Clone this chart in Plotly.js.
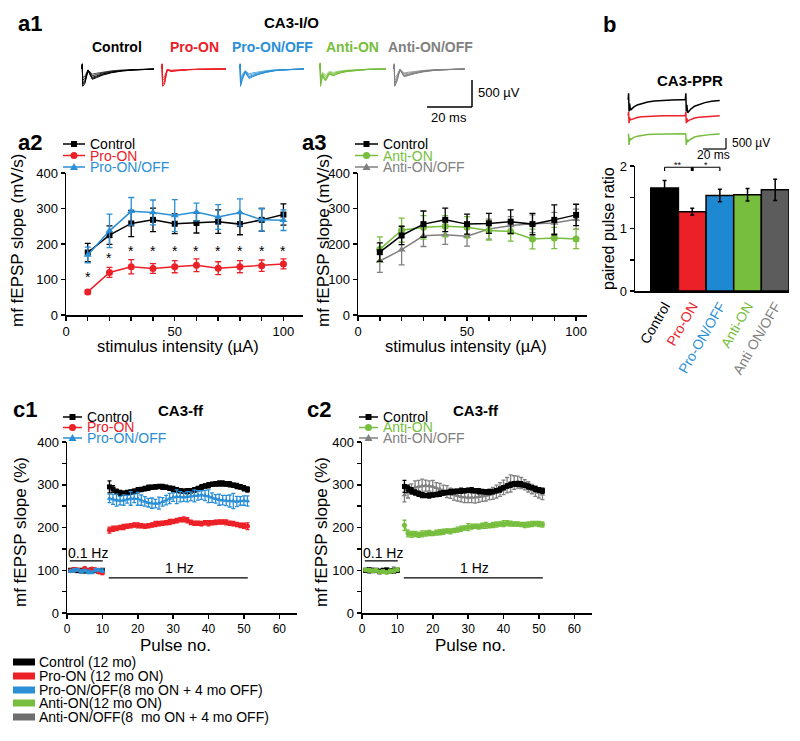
<!DOCTYPE html>
<html><head><meta charset="utf-8">
<script src="https://cdn.plot.ly/plotly-3.0.1.min.js"></script>
<style>body{margin:0;background:#fff}#chart{width:800px;height:741px}</style>
</head><body><div id="chart"></div>
<script>
// ---------- DATA ----------
const groupNames = ['Control','Pro-ON','Pro-ON/OFF','Anti-ON','Anti-ON/OFF'];
const groupColors = ['#000000','#EC2027','#2A8FD6','#77BE3E','#808080'];
const barColors = ['#000000','#EC2027','#1F88D2','#77BE3E','#5C5C5C'];

// a2 / a3 input-output
const intensity = [10,20,30,40,50,60,70,80,90,100];
const ioTickVals = [0,10,20,30,40,50,60,70,80,90,100];
const ioTickText = ['0','','','','','50','','','','','100'];
const ioControlA2 = [176,225,258,268,257,259,263,256,268,283];
const ioControlA2Err = [26,26,37,33,28,28,33,30,32,30];
const ioProOn = [65,120,136,131,136,140,132,136,139,144];
const ioProOnErr = [6,14,20,14,17,18,18,17,16,14];
const ioProOnOff = [169,237,292,289,280,290,276,289,268,267];
const ioProOnOffErr = [22,47,39,35,45,25,35,38,32,29];
const sigX = [10,20,30,40,50,60,70,80,90,100];
const sigY = [116,169,189,189,189,189,189,189,189,189];
const ioControlA3 = [177,224,256,268,256,258,263,256,268,282];
const ioControlA3Err = [26,26,37,33,28,28,33,30,42,30];
const ioAntiOn = [185,239,247,250,247,238,235,214,217,214];
const ioAntiOnErr = [35,34,33,30,30,27,27,28,30,27];
const ioAntiOnOff = [152,184,223,226,222,242,252,257,259,270];
const ioAntiOnOffErr = [32,43,30,27,28,28,25,25,30,28];

// b paired pulse ratio
const pprLabels = ['Control','Pro-ON','Pro-ON/OFF','Anti-ON','Anti ON/OFF'];
const pprMean = [1.65,1.27,1.53,1.54,1.62];
const pprErr = [0.12,0.055,0.1,0.1,0.17];

// c1 / c2 frequency facilitation
const basePulse = [1,2,3,4,5,6,7,8,9,10];
const hzPulse = [12,13,14,15,16,17,18,19,20,21,22,23,24,25,26,27,28,29,30,31,32,33,34,35,36,37,38,39,40,41,42,43,44,45,46,47,48,49,50,51];
const yTickVals = [0,50,100,150,200,250,300,350,400];
const yTickText = ['0','','100','','200','','300','','400'];
const pulseTicks = [0,10,20,30,40,50,60];

const c1ControlBase = [100,101,99,100,98,100,101,99,98,100];
const c1ProOnBase = [99,102,101,98,104,99,103,101,96,94];
const c1ProOnOffBase = [98,100,101,97,99,96,95,100,101,99];
const baseErr = [3,4,3,4,3,4,3,4,3,4];
const c1Control = [295,290,284,281,280,281,283,285,287,289,291,293,294,295,296,295,294,292,290,288,286,285,285,286,288,291,294,297,299,301,302,303,303,302,301,299,297,295,292,289];
const c1ControlErr = [14,8,6,6,5,6,5,5,6,5,5,6,5,5,5,6,5,5,6,5,5,5,6,5,5,5,6,5,6,5,5,6,6,5,6,5,6,5,6,6];
const c1ProOn = [194,197,198,200,201,203,204,206,205,204,203,204,206,208,209,210,211,213,214,216,218,219,217,212,210,210,209,211,210,211,212,213,213,212,210,209,207,205,204,203];
const c1ProOnErr = [7,6,5,5,6,5,5,5,6,5,5,5,5,6,5,5,5,6,5,5,5,6,6,5,5,5,5,5,6,5,5,5,5,6,5,5,5,5,6,8];
const c1ProOnOff = [268,266,264,263,264,266,268,268,267,264,261,258,257,256,257,260,264,268,271,272,272,271,272,273,274,275,276,275,273,270,267,265,264,263,262,262,261,262,263,262];
const c1ProOnOffErr = [10,12,14,10,12,9,16,10,15,12,11,10,12,10,14,10,11,12,10,16,12,10,12,10,14,11,10,12,15,11,10,13,11,12,14,18,12,10,11,12];

const c2ControlBase = [100,101,99,100,98,100,101,99,98,100];
const c2AntiOnBase = [101,100,99,100,96,97,95,98,99,102];
const c2AntiOnOffBase = [98,97,102,99,94,100,99,97,104,99];
const c2Control = [296,291,286,282,279,276,275,275,276,277,279,281,282,283,284,285,286,286,287,287,286,285,284,283,283,284,286,289,293,297,300,302,302,301,299,296,293,290,288,286];
const c2ControlErr = [14,8,7,6,6,6,5,6,5,5,6,5,5,6,5,5,6,5,5,6,5,6,5,5,6,5,5,6,5,5,6,5,6,6,5,6,5,6,5,6];
const c2AntiOn = [205,186,184,185,183,185,186,187,186,188,189,190,192,191,193,195,197,199,201,202,203,202,204,205,204,206,207,208,209,210,209,208,208,207,206,207,208,209,208,207];
const c2AntiOnErr = [12,8,7,6,6,7,6,6,5,6,6,6,5,6,5,6,6,5,8,6,5,6,6,7,5,6,6,5,7,6,6,5,5,5,6,6,6,5,6,6];
const c2AntiOnOff = [276,283,290,294,296,297,298,297,296,293,290,287,284,280,277,274,272,271,270,270,271,272,273,275,277,280,284,289,294,299,303,305,306,304,300,295,290,285,281,278];
const c2AntiOnOffErr = [16,14,12,15,14,16,13,12,14,12,13,12,14,12,13,12,12,13,12,12,14,13,12,13,12,14,15,16,17,18,20,16,14,13,12,12,11,12,12,13];

// example traces (a1, b)
const ioTime = [0,0.3,0.5,1.5,3,5,7,10,14,19,25,34];
const ioWaves = [
  [0,0.3,-1.0,-0.85,-0.1,-0.6,-0.5,-0.35,-0.22,-0.12,-0.06,-0.01],
  [0,0.3,-1.0,-0.9,-0.05,-0.15,-0.12,-0.08,-0.05,-0.03,-0.01,0],
  [0,0.3,-1.0,-0.6,-0.2,-0.55,-0.45,-0.32,-0.2,-0.1,-0.05,0],
  [0,0.35,-1.0,-0.4,-0.7,-0.3,-0.4,-0.25,-0.15,-0.08,-0.03,0],
  [0,0.3,-1.0,-0.75,-0.05,-0.45,-0.38,-0.27,-0.17,-0.09,-0.04,0]
];
const ioLevels = [0.5,0.65,0.8,0.9,1.0];
const pprTime = [0,0.4,0.8,1.3,2,3,5,8,12,17,23,30,38,46,50,50.4,50.8,51.3,52,53,55,58,62,67,73,80];
const pprWaveControl = [0,0.5,-0.9,-0.3,-0.8,-0.7,-0.55,-0.4,-0.28,-0.18,-0.1,-0.05,-0.02,0,0,0.5,-0.9,-0.4,-1.0,-0.9,-0.7,-0.5,-0.35,-0.22,-0.12,-0.06];
const pprWaveProOn = [0,0.4,-0.8,-0.2,-0.45,-0.4,-0.3,-0.2,-0.13,-0.08,-0.05,-0.02,0,0,0,0.4,-0.8,-0.3,-0.6,-0.5,-0.38,-0.25,-0.16,-0.1,-0.05,-0.02];
const pprWaveAntiOn = [0,-0.1,-1.0,-0.4,-0.55,-0.45,-0.33,-0.22,-0.14,-0.08,-0.04,-0.02,0,0,0,-0.1,-1.0,-0.5,-0.75,-0.6,-0.45,-0.3,-0.2,-0.12,-0.06,-0.03];

const legendBottom = ['Control (12 mo)','Pro-ON (12 mo ON)','Pro-ON/OFF(8 mo ON + 4 mo OFF)','Anti-ON(12 mo ON)','Anti-ON/OFF(8&nbsp; mo ON + 4 mo OFF)'];
const legendBottomColors = ['#000000','#EC2027','#2A8FD6','#77BE3E','#6E6E6E'];

// ---------- LAYOUT HELPERS ----------
const W = 800, H = 741;
const PX = x => x / W, PY = y => 1 - y / H;
const FONT = 'Liberation Sans, Arial, sans-serif';
const traces = [], shapes = [], annotations = [];
const layout = {
  width: W, height: H, margin: {l:0, r:0, t:0, b:0},
  paper_bgcolor: '#fff', plot_bgcolor: 'rgba(0,0,0,0)',
  showlegend: false, font: {family: FONT, color: '#000'}, bargap: 0
};
const axBase = {showline:true, linecolor:'#000', linewidth:1.5, ticks:'outside', ticklen:4, tickwidth:1.5,
  tickcolor:'#000', showgrid:false, zeroline:false, tickfont:{size:13, color:'#000', family:FONT}, fixedrange:true, tickmode:'array'};
function setAxes(k, xd, yd, xo, yo) {
  const xs = k === 1 ? 'xaxis' : 'xaxis' + k, ys = k === 1 ? 'yaxis' : 'yaxis' + k;
  const yid = k === 1 ? 'y' : 'y' + k, xid = k === 1 ? 'x' : 'x' + k;
  layout[xs] = Object.assign({}, axBase, {domain:[PX(xd[0]), PX(xd[1])], anchor: yid}, xo);
  layout[ys] = Object.assign({}, axBase, {domain:[PY(yd[1]), PY(yd[0])], anchor: xid}, yo);
}
function ann(text, x, y, o) {
  annotations.push(Object.assign({text, x: PX(x), y: PY(y), xref:'paper', yref:'paper', showarrow:false,
    xanchor:'center', yanchor:'middle', font:{size:14, color:'#000', family:FONT}}, o || {}));
}
function pline(x0, y0, x1, y1, color, w) {
  shapes.push({type:'line', xref:'paper', yref:'paper', x0:PX(x0), y0:PY(y0), x1:PX(x1), y1:PY(y1), line:{color: color || '#000', width: w || 1.5}});
}
function glyph(x0, x1, y, color, sym) {
  pline(x0, y, x1, y, color, 1.5);
  const cx = (x0 + x1) / 2, r = 3;
  if (sym === 'square') shapes.push({type:'rect', xref:'paper', yref:'paper', x0:PX(cx-r), x1:PX(cx+r), y0:PY(y+r), y1:PY(y-r), fillcolor:color, line:{width:0}});
  else if (sym === 'circle') shapes.push({type:'circle', xref:'paper', yref:'paper', x0:PX(cx-3.5), x1:PX(cx+3.5), y0:PY(y+3.5), y1:PY(y-3.5), fillcolor:color, line:{width:0}});
  else shapes.push({type:'path', xref:'paper', yref:'paper', path:`M ${PX(cx-4)} ${PY(y+3)} L ${PX(cx+4)} ${PY(y+3)} L ${PX(cx)} ${PY(y-4)} Z`, fillcolor:color, line:{width:0}});
}
function lineTrace(x, y, err, color, sym, k, msize, ew) {
  const ax = k === 1 ? '' : String(k);
  traces.push({x, y, type:'scatter', mode:'lines+markers', xaxis:'x'+ax, yaxis:'y'+ax,
    line:{color, width:1.5}, marker:{color, symbol:sym, size:msize},
    error_y:{type:'data', array:err, visible:true, color, thickness:1.3, width:ew}, hoverinfo:'skip'});
}

// ---------- a2 ----------
const ioX = {range:[0,109], tickvals:ioTickVals, ticktext:ioTickText};
const ioY = {range:[0,400], tickvals:[0,100,200,300,400], ticktext:['0','100','200','300','400']};
setAxes(1, [66,303], [173,315], ioX, ioY);
lineTrace(intensity, ioControlA2, ioControlA2Err, groupColors[0], 'square', 1, 6, 3);
lineTrace(intensity, ioProOn, ioProOnErr, groupColors[1], 'circle', 1, 7, 3);
lineTrace(intensity, ioProOnOff, ioProOnOffErr, groupColors[2], 'triangle-up', 1, 7, 3);
sigX.forEach((x, i) => annotations.push({text:'*', x, y:sigY[i], xref:'x', yref:'y', showarrow:false, yanchor:'middle', yshift:-3, font:{size:14, color:'#000', family:FONT}}));

// ---------- a3 ----------
setAxes(2, [358,587], [173,315], Object.assign({}, ioX, {range:[0,105]}), ioY);
lineTrace(intensity, ioAntiOnOff, ioAntiOnOffErr, groupColors[4], 'triangle-up', 2, 7, 3);
lineTrace(intensity, ioAntiOn, ioAntiOnErr, groupColors[3], 'circle', 2, 7, 3);
lineTrace(intensity, ioControlA3, ioControlA3Err, groupColors[0], 'square', 2, 6, 3);

// ---------- b ----------
setAxes(3, [635,789], [166,291],
  {range:[-1.07,4.5], ticks:'', tickvals:[0,1,2,3,4], tickangle:-60,
   ticktext: pprLabels.map((t,i) => `<span style="color:${groupColors[i]}">${t}</span>`),
   tickfont:{size:14, family:FONT}},
  {range:[0,2], tickvals:[0,0.5,1,1.5,2], ticktext:['0','','1','','2']});
traces.push({type:'bar', x:[0,1,2,3,4], y:pprMean, xaxis:'x3', yaxis:'y3', width:1,
  marker:{color:barColors, line:{color:'#000', width:1.5}},
  error_y:{type:'data', array:pprErr, visible:true, color:'#000', thickness:1.5, width:2}, hoverinfo:'skip'});
[[0,1.98,2,1.98],[0,1.98,0,1.92],[2,1.98,2,1.92]].forEach(s => shapes.push({type:'line', xref:'x3', yref:'y3', x0:s[0], y0:s[1], x1:s[2], y1:s[3], line:{color:'#000', width:1.2}}));
shapes.push({type:'line', xref:'x3', yref:'y3', x0:1, y0:1.98, x1:1, y1:1.92, line:{color:'#000', width:3}});
annotations.push({text:'**', x:0.5, y:1.98, xref:'x3', yref:'y3', showarrow:false, yanchor:'middle', yshift:2, font:{size:9, color:'#000', family:FONT}});
annotations.push({text:'*', x:1.5, y:1.98, xref:'x3', yref:'y3', showarrow:false, yanchor:'middle', yshift:2, font:{size:9, color:'#000', family:FONT}});

// ---------- c1 ----------
const cX = {range:[0,65], tickvals:pulseTicks, ticktext:pulseTicks.map(String), tickfont:{size:12, family:FONT}};
const cY = {range:[0,400], tickvals:yTickVals, ticktext:yTickText, tickfont:{size:13, family:FONT}};
setAxes(4, [67,297], [442,613], cX, cY);
lineTrace(basePulse, c1ControlBase, baseErr, groupColors[0], 'square', 4, 5, 2);
lineTrace(hzPulse, c1Control, c1ControlErr, groupColors[0], 'square', 4, 5, 2);
lineTrace(basePulse, c1ProOnBase, baseErr, groupColors[1], 'circle', 4, 5, 2);
lineTrace(hzPulse, c1ProOn, c1ProOnErr, groupColors[1], 'circle', 4, 5, 2);
lineTrace(basePulse, c1ProOnOffBase, baseErr, groupColors[2], 'triangle-up', 4, 5, 2);
lineTrace(hzPulse, c1ProOnOff, c1ProOnOffErr, groupColors[2], 'triangle-up', 4, 5, 2);

// ---------- c2 ----------
setAxes(5, [362,592], [442,613], cX, cY);
lineTrace(basePulse, c2AntiOnOffBase, baseErr, groupColors[4], 'triangle-up', 5, 5, 2);
lineTrace(hzPulse, c2AntiOnOff, c2AntiOnOffErr, groupColors[4], 'triangle-up', 5, 5, 2);
lineTrace(basePulse, c2ControlBase, baseErr, groupColors[0], 'square', 5, 5, 2);
lineTrace(hzPulse, c2Control, c2ControlErr, groupColors[0], 'square', 5, 5, 2);
lineTrace(basePulse, c2AntiOnBase, baseErr, groupColors[3], 'circle', 5, 5, 2);
lineTrace(hzPulse, c2AntiOn, c2AntiOnErr, groupColors[3], 'circle', 5, 5, 2);

['x4','x5'].forEach((xr, i) => {
  const yr = i === 0 ? 'y4' : 'y5';
  shapes.push({type:'line', xref:xr, yref:yr, x0:0.8, x1:10.1, y0:122, y1:122, line:{color:'#000', width:1.2}});
  shapes.push({type:'line', xref:xr, yref:yr, x0:11.8, x1:51.1, y0:82, y1:82, line:{color:'#000', width:1.2}});
  annotations.push({text:'0.1 Hz', x:5.8, y:140, xref:xr, yref:yr, showarrow:false, font:{size:14, family:FONT}});
  annotations.push({text:'1 Hz', x:31.9, y:106, xref:xr, yref:yr, showarrow:false, font:{size:14, family:FONT}});
});

// ---------- example traces (hidden axes) ----------
const hidden = (d, r) => ({domain:d, range:r, visible:false, fixedrange:true});
const a1Dom = [[81,154],[161,226],[239,304],[319,386],[393,465]];
let k = 6;
ioWaves.forEach((wave, g) => {
  layout['xaxis'+k] = hidden([PX(a1Dom[g][0]), PX(a1Dom[g][1])], [-0.3, 34]);
  layout['yaxis'+k] = hidden([PY(88), PY(62)], [-1.1, 0.4]);
  layout['xaxis'+k].anchor = 'y'+k; layout['yaxis'+k].anchor = 'x'+k;
  ioLevels.forEach(lv => traces.push({x:ioTime, y:wave.map(v => v*lv), type:'scatter', mode:'lines',
    xaxis:'x'+k, yaxis:'y'+k, line:{color:groupColors[g], width:1}, opacity:0.45 + 0.55*lv, hoverinfo:'skip'}));
  k++;
});
const pprWaves = [pprWaveControl, pprWaveProOn, pprWaveAntiOn];
const pprWaveColors = [groupColors[0], groupColors[1], groupColors[3]];
const pprDomY = [[92,114],[110,126],[127,146]];
pprWaves.forEach((wave, i) => {
  layout['xaxis'+k] = hidden([PX(627), PX(722)], [-1, 82]);
  layout['yaxis'+k] = hidden([PY(pprDomY[i][1]), PY(pprDomY[i][0])], [-1.1, 0.6]);
  layout['xaxis'+k].anchor = 'y'+k; layout['yaxis'+k].anchor = 'x'+k;
  traces.push({x:pprTime, y:wave, type:'scatter', mode:'lines', xaxis:'x'+k, yaxis:'y'+k,
    line:{color:pprWaveColors[i], width:1.5}, hoverinfo:'skip'});
  k++;
});

// ---------- texts ----------
ann('<b>a1</b>', 30, 24, {font:{size:22, family:FONT}});
ann('<b>CA3-I/O</b>', 291, 23, {font:{size:15, family:FONT}});
const a1LabelX = [117,194,272,352,431];
groupNames.forEach((n, i) => ann('<b>'+n+'</b>', a1LabelX[i], 47, {font:{size:14, color:groupColors[i], family:FONT}}));
pline(472, 80, 472, 107); pline(427, 107, 472, 107);
ann('500 µV', 476, 93, {xanchor:'left', font:{size:13, family:FONT}});
ann('20 ms', 449, 117, {font:{size:13, family:FONT}});

ann('<b>b</b>', 609, 25, {font:{size:22, family:FONT}});
ann('<b>CA3-PPR</b>', 690, 80, {font:{size:15, family:FONT}});
pline(726, 138, 726, 149, '#000', 1.2); pline(703, 149, 726, 149, '#000', 1.2);
ann('500 µV', 730, 143, {xanchor:'left', font:{size:12, family:FONT}});
ann('20 ms', 713, 155, {font:{size:12, family:FONT}});
ann('paired pulse ratio', 609, 229, {textangle:-90, font:{size:16, family:FONT}});

ann('<b>a2</b>', 30, 143, {font:{size:22, family:FONT}});
ann('<b>a3</b>', 314, 143, {font:{size:22, family:FONT}});
ann('mf fEPSP slope (mV/s)', 18, 240, {textangle:-90, font:{size:17, family:FONT}});
ann('mf fEPSP slope (mV/s)', 324, 240, {textangle:-90, font:{size:17, family:FONT}});
ann('stimulus intensity (µA)', 178, 346, {font:{size:16.5, family:FONT}});
ann('stimulus intensity (µA)', 466, 346, {font:{size:16.5, family:FONT}});

// panel legends
function panelLegend(x0, x1, ys, names, colors, syms) {
  names.forEach((n, i) => { glyph(x0, x1, ys[i], colors[i], syms[i]);
    ann(n, x1 + 3, ys[i], {xanchor:'left', font:{size:14, color:colors[i], family:FONT}}); });
}
panelLegend(63, 85, [144,155.5,167], ['Control','Pro-ON','Pro-ON/OFF'], [groupColors[0],groupColors[1],groupColors[2]], ['square','circle','triangle']);
panelLegend(355, 378, [144,155.5,167], ['Control','Anti-ON','Anti-ON/OFF'], [groupColors[0],groupColors[3],groupColors[4]], ['square','circle','triangle']);
panelLegend(63, 82, [417,427.5,438], ['Control','Pro-ON','Pro-ON/OFF'], [groupColors[0],groupColors[1],groupColors[2]], ['square','circle','triangle']);
panelLegend(359, 378, [417,427.5,438], ['Control','Anti-ON','Anti-ON/OFF'], [groupColors[0],groupColors[3],groupColors[4]], ['square','circle','triangle']);

ann('<b>c1</b>', 25, 409, {font:{size:22, family:FONT}});
ann('<b>CA3-ff</b>', 181, 410, {font:{size:15, family:FONT}});
ann('<b>c2</b>', 319, 409, {font:{size:22, family:FONT}});
ann('<b>CA3-ff</b>', 476, 410, {font:{size:15, family:FONT}});
ann('mf fEPSP slope (%)', 20, 532, {textangle:-90, font:{size:17, family:FONT}});
ann('mf fEPSP slope (%)', 321, 532, {textangle:-90, font:{size:17, family:FONT}});
ann('Pulse no.', 175, 645, {font:{size:17, family:FONT}});
ann('Pulse no.', 470, 645, {font:{size:17, family:FONT}});

// bottom legend
const legY = [662,676,690,703,717];
legendBottom.forEach((t, i) => {
  shapes.push({type:'rect', xref:'paper', yref:'paper', x0:PX(13), x1:PX(35), y0:PY(legY[i]+3.5), y1:PY(legY[i]-3.5), fillcolor:legendBottomColors[i], line:{width:0}});
  ann(t, 37, legY[i], {xanchor:'left', font:{size:14, family:FONT}});
});

layout.shapes = shapes;
layout.annotations = annotations;
Plotly.newPlot('chart', traces, layout, {staticPlot:true, displayModeBar:false});
</script>
</body></html>
